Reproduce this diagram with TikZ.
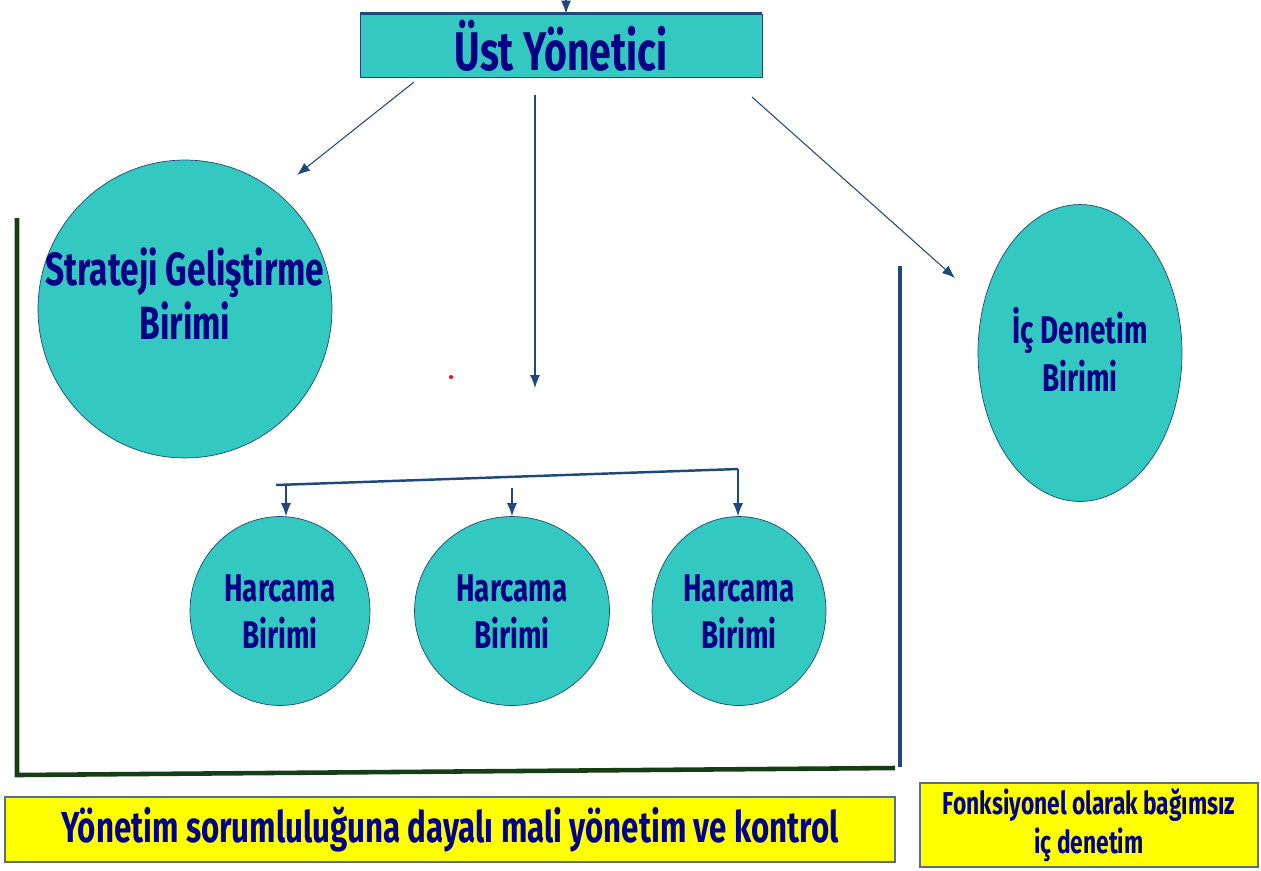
\documentclass[tikz,border=0pt]{standalone}
\usepackage{fontspec}
\setmainfont{Fira Sans}
\newfontfamily\comicfont[FakeStretch=0.72]{Fira Sans Bold}
\usepackage{tikz}
\usetikzlibrary{arrows.meta,positioning,shapes.geometric,calc}
\definecolor{teal}{RGB}{51,200,192}
\definecolor{navy}{RGB}{0,0,135}
\definecolor{slate}{RGB}{31,73,125}
\definecolor{darkgreen}{RGB}{22,62,22}
\definecolor{boxyellow}{RGB}{255,255,0}
\definecolor{boxedge}{RGB}{90,110,140}
% text that does not stretch the ellipse round it
\newcommand{\unitlines}[2][0pt]{\raisebox{#1}[0pt][0pt]{\makebox[0pt]{\begin{tabular}{@{}c@{}}#2\end{tabular}}}}

\begin{document}
\begin{tikzpicture}[x=0.02cm,y=-0.02cm,
        unit/.style={ellipse, fill=teal, draw=slate, thin, inner sep=0pt, text=navy},
        note/.style={rectangle, fill=boxyellow, draw=boxedge, thick, inner sep=0pt, text=navy, align=center},
        arr/.style={-{Latex[length=2.6mm,width=2mm]}, slate, semithick}]
        \useasboundingbox (0,0) rectangle (1261,870);
        % Top manager
        \node[rectangle, fill=teal, draw=slate, thin, minimum width=8.04cm, minimum height=1.26cm,
              text=navy, font=\comicfont\fontsize{31}{36}\selectfont] (ust) at (561,45.5) {Üst Yönetici};
        \draw[slate, line width=1.5pt] (ust.north west) -- (ust.north east);
        \coordinate (intop) at (566,0);
        \draw[arr] (intop) -- (ust.north -| intop);
        % Units
        \node[unit, minimum width=5.88cm, minimum height=5.96cm,
              font=\comicfont\fontsize{26.5}{29.5}\selectfont] (strateji) at (185,309) {\unitlines[-1.8pt]{Strateji Geliştirme\\Birimi}};
        \node[unit, minimum width=4.08cm, minimum height=5.94cm,
              font=\comicfont\fontsize{22}{27}\selectfont] (denetim) at (1080,353) {\unitlines[-7.2pt]{İç Denetim\\Birimi}};
        \node[unit, minimum width=3.6cm, minimum height=3.78cm,
              font=\comicfont\fontsize{22}{26.5}\selectfont] (harc1) at (280,611) {\unitlines[-7.8pt]{Harcama\\Birimi}};
        \node[unit, minimum width=3.9cm, minimum height=3.78cm,
              font=\comicfont\fontsize{22}{26.5}\selectfont] (harc2) at (512,611) {\unitlines[-7.8pt]{Harcama\\Birimi}};
        \node[unit, minimum width=3.48cm, minimum height=3.78cm,
              font=\comicfont\fontsize{22}{26.5}\selectfont] (harc3) at (739,611) {\unitlines[-7.8pt]{Harcama\\Birimi}};
        % Arrows from top manager
        \coordinate (s1) at (414,82);
        \coordinate (e1) at (297,175);
        \coordinate (s2) at (535,95);
        \coordinate (e2) at (535,388);
        \coordinate (s3) at (752,97);
        \coordinate (e3) at (955,278);
        \draw[arr] (s1) -- (e1);
        \draw[arr] (s2) -- (e2);
        \draw[arr] (s3) -- (e3);
        % Branch to spending units
        \coordinate (b1) at (276,485);
        \coordinate (b3) at (738,469);
        \draw[slate, line width=1.4pt] (b1) -- (b3);
        \coordinate (d1) at (286,485);
        \coordinate (d2) at (512,488);
        \draw[arr] (d1) -- (d1 |- harc1.north);
        \draw[arr] (d2) -- (harc2.north);
        \draw[arr] (b3) -- (b3 |- harc3.north);
        \fill[red] (451,377) circle (2);
        % Frames
        \draw[darkgreen, line width=2.6pt] (17,218) -- (17,775) -- (895,768);
        \draw[slate, line width=2.2pt] (900,266) -- (900,767);
        % Notes
        \node[note, minimum width=17.8cm, minimum height=1.3cm,
              font=\comicfont\fontsize{24.7}{28}\selectfont] (yonetim) at (450,829.5) {Yönetim sorumluluğuna dayalı mali yönetim ve kontrol};
        \node[note, minimum width=6.76cm, minimum height=1.68cm,
              font=\comicfont\fontsize{18}{22.5}\selectfont] (bagimsiz) at (1089,825) {Fonksiyonel olarak bağımsız\\iç denetim};
\end{tikzpicture}
\end{document}
